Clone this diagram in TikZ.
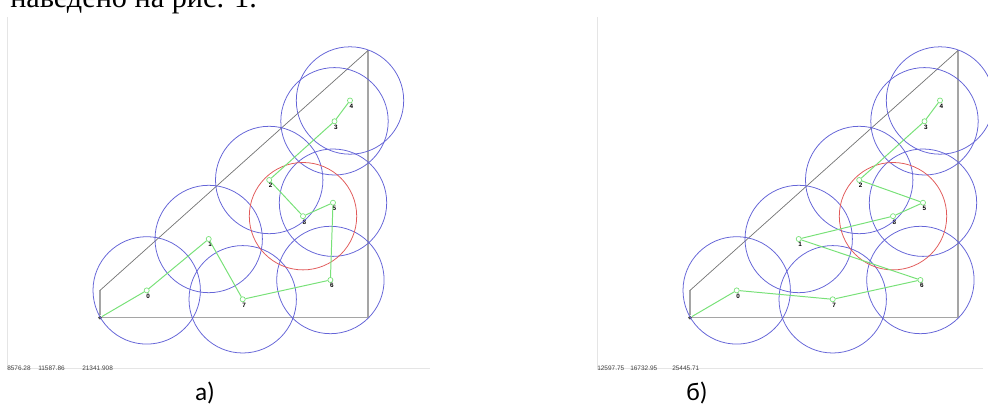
\documentclass[tikz,border=0pt]{standalone}
\usepackage{fontspec}
\setmainfont{Liberation Serif}
\newfontfamily\capfont{Carlito}
\newfontfamily\numfont{Liberation Sans}
\usetikzlibrary{positioning}

\definecolor{ringblue}{RGB}{100,100,215}
\definecolor{ringred}{RGB}{225,90,90}
\definecolor{routegreen}{RGB}{120,225,120}
\definecolor{edgegray}{RGB}{165,165,165}

\tikzset{
  ring/.style={draw=ringblue, line width=0.55pt},
  redring/.style={draw=ringred, line width=0.55pt},
  route/.style={draw=routegreen, line width=0.7pt},
  site/.style={circle, draw=routegreen, line width=0.5pt, inner sep=0pt, minimum size=3.6pt},
  sitenum/.style={font=\numfont\bfseries\fontsize{4.5}{5}\selectfont, inner sep=0.3pt, xshift=1pt},
  start/.style={circle, fill=black!70, inner sep=0pt, minimum size=2.8pt},
  frame/.style={draw=edgegray, line width=1.1pt},
  slope/.style={draw=black!55, line width=0.5pt},
  stats/.style={font=\numfont\fontsize{4.6}{5}\selectfont, text=black!75, inner sep=0pt, anchor=base west},
  caption/.style={font=\capfont\fontsize{18}{21}\selectfont, inner sep=0pt},
  window/.style={draw=black!10, line width=0.4pt}
}

\begin{document}
\begin{tikzpicture}[x=0.025cm, y=0.025cm]
\useasboundingbox (0,0) rectangle (988,406);
\clip (0,0) rectangle (988,406);

% line of text cut by the top edge
\node[font=\fontsize{21.5}{25}\selectfont, anchor=base west, inner sep=0pt] (lead) at (10,398.7) {наведено на рис. 1.};

% faint edges of the two screenshots
\draw[window] (7,389) -- (7,37.5) -- (430,37.5);
\draw[window] (597,389) -- (597,37.5) -- (983,37.5);

\foreach \p/\dx in {a/100, b/690} {
  \begin{scope}[shift={(\dx,88.3)}]
    \node[start] (\p O) at (0,0) {};
    \coordinate (\p R) at (268.2,0);
    \coordinate (\p T) at (268.2,267.3);
    \coordinate (\p L) at (0,27.3);
    \draw[frame] (\p L) -- (\p O) -- (\p R) -- (\p T);
    \draw[slope] (\p L) -- (\p T);
    \foreach \n/\x/\y in {0/46.7/27.3, 1/108.7/78.7, 2/169.2/137.7, 3/234.5/196.4,
                          4/250/217.2, 5/233/115, 6/230.4/37.7, 7/142.7/18.4, 8/203/101.5}
      \node[site, label={[sitenum]below:\n}] (\p\n) at (\x,\y) {};
    \foreach \n in {0,...,7}
      \draw[ring] (\p\n) circle (53.7);
    \draw[redring] (\p8) circle (53.7);
  \end{scope}
}

% routes
\draw[route] (aO) -- (a0) -- (a1) -- (a7) -- (a6) -- (a5) -- (a8) -- (a2) -- (a3) -- (a4);
\draw[route] (bO) -- (b0) -- (b7) -- (b6) -- (b1) -- (b8) -- (b5) -- (b2) -- (b3) -- (b4);

% status lines
\node[stats] (sa1) at (7,35.5) {8576.28};
\node[stats] (sa2) at (38,35.5) {11587.86};
\node[stats] (sa3) at (82,35.5) {21341.908};
\node[stats] (sb1) at (597,35.5) {12597.75};
\node[stats] (sb2) at (630,35.5) {16732.95};
\node[stats] (sb3) at (672,35.5) {25445.71};

% captions
\node[caption] (capa) at (205,13) {a)};
\node[caption] (capb) at (697,13) {б)};
\end{tikzpicture}
\end{document}
